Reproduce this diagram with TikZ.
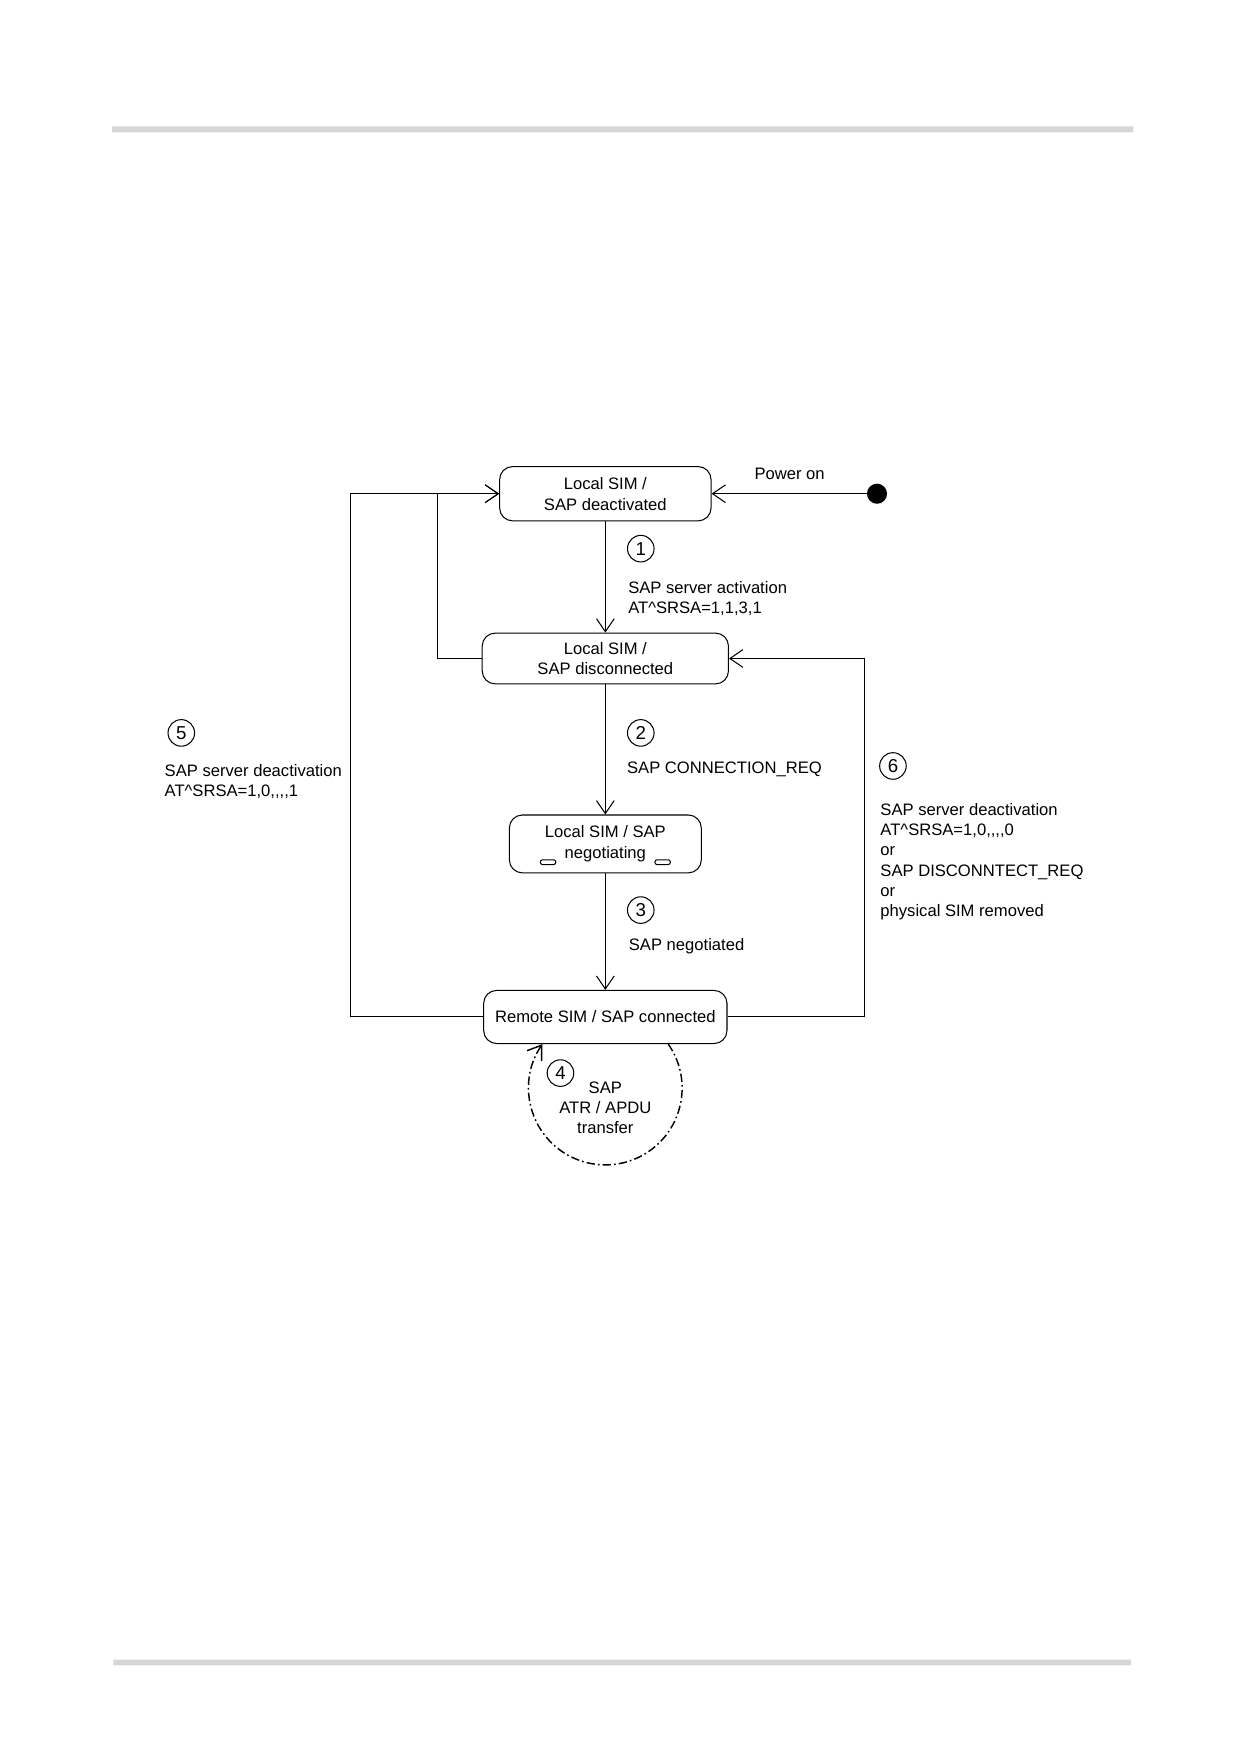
\documentclass[tikz,border=0pt]{standalone}
\usepackage{fontspec}
\setmainfont{Liberation Sans}
\usetikzlibrary{arrows.meta,calc}

\begin{document}
\begin{tikzpicture}[line width=0.5pt,
    state/.style={draw,rounded corners=0.22cm,align=center,inner sep=0pt,font=\fontsize{8}{10}\selectfont},
    num/.style={draw,circle,minimum size=0.45cm,inner sep=0pt,font=\fontsize{9}{9}\selectfont},
    lbl/.style={anchor=north west,align=left,inner sep=0pt,font=\fontsize{8}{9.8}\selectfont},
    tr/.style={-{Straight Barb[length=2.2mm,width=3mm]}}]
  \useasboundingbox (0,0) rectangle (21,-29.7);
  \fill[black!16] (1.90,-2.14) rectangle (19.19,-2.24) (1.92,-28.10) rectangle (19.15,-28.20);

  % states
  \node[state,minimum width=3.58cm,minimum height=0.92cm] (deact) at (10.25,-8.36) {Local SIM /\\SAP deactivated};
  \node[state,minimum width=4.17cm,minimum height=0.86cm] (disc) at (10.25,-11.15) {Local SIM /\\SAP disconnected};
  \node[state,minimum width=3.25cm,minimum height=0.98cm] (neg) at (10.25,-14.29) {Local SIM / SAP\\negotiating};
  \node[state,minimum width=4.12cm,minimum height=0.90cm] (conn) at (10.25,-17.22) {Remote SIM / SAP connected};
  \foreach \dx in {-0.97,0.97}
    \draw[rounded corners=1pt] ($(neg.south)+(\dx-0.13,0.15)$) rectangle ++(0.26,0.08);

  \fill (14.85,-8.36) circle(0.17) node (start) {};
  \node[font=\fontsize{8}{9.8}\selectfont] (pwr) at (13.37,-8.02) {Power on};

  \coordinate (outerL) at (5.93,0);
  \coordinate (innerL) at (7.41,0);
  \coordinate (rightL) at (14.64,0);

  % transitions
  \draw[tr] (start) -- (deact.east);
  \draw[tr] (deact) -- (disc);
  \draw[tr] (disc) -- (neg);
  \draw[tr] (neg) -- (conn);
  \draw[tr] (disc.west) -- (disc.west -| innerL) |- (deact.west);
  \draw[tr] (conn.west) -- (conn.west -| outerL) |- (deact.west);
  \draw[tr] (conn.east) -- (conn.east -| rightL) |- (disc.east);
  \draw[tr,line width=0.7pt,dash pattern=on 4pt off 1.5pt on 0.8pt off 1.5pt]
    ([xshift=1.065cm]conn.south) arc (35:-215:1.30cm);

  % labels
  \node[num] (n1) at (10.85,-9.29) {1};
  \node[lbl] (t1) at (10.63,-9.83) {SAP server activation\\AT\^{}SRSA=1,1,3,1};
  \node[num] (n2) at (10.85,-12.41) {2};
  \node[lbl] (t2) at (10.61,-12.90) {SAP CONNECTION\_REQ};
  \node[num] (n3) at (10.85,-15.41) {3};
  \node[lbl] (t3) at (10.64,-15.88) {SAP negotiated};
  \node[num] (n4) at (9.49,-18.17) {4};
  \node[align=center,inner sep=0pt,font=\fontsize{8}{9.8}\selectfont] (t4) at (10.25,-18.76) {SAP\\ATR / APDU\\transfer};
  \node[num] (n5) at (3.07,-12.41) {5};
  \node[lbl] (t5) at (2.78,-12.93) {SAP server deactivation\\AT\^{}SRSA=1,0,{},{},{},1};
  \node[num] (n6) at (15.12,-12.97) {6};
  \node[lbl] (t6) at (14.90,-13.59) {SAP server deactivation\\AT\^{}SRSA=1,0,{},{},{},0\\or\\SAP DISCONNTECT\_REQ\\or\\physical SIM removed};
\end{tikzpicture}
\end{document}
